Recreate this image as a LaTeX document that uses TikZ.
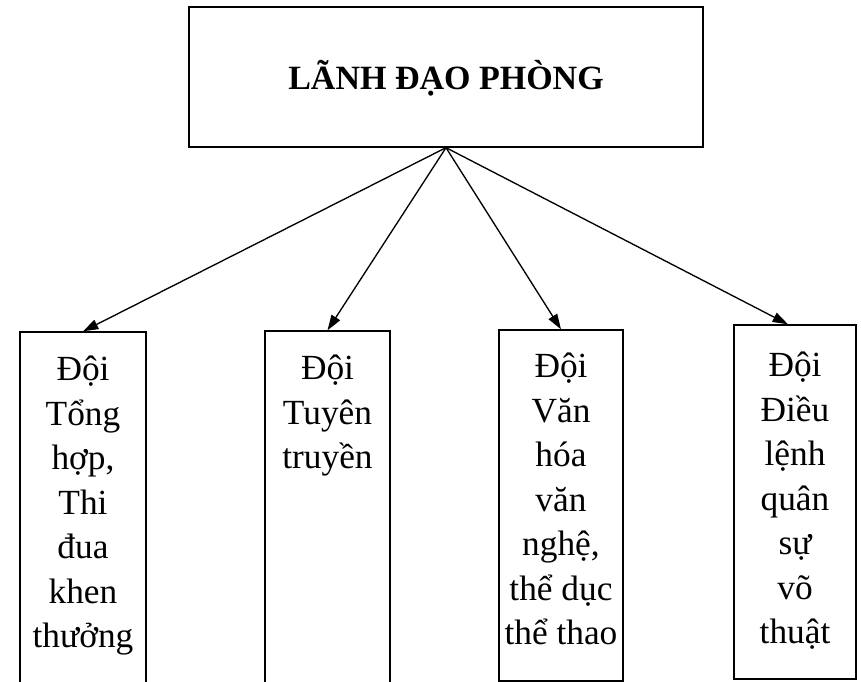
\documentclass[tikz,border=0pt]{standalone}
\usepackage{fontspec}
\setmainfont{Liberation Serif}
\usetikzlibrary{arrows.meta}
\begin{document}
\begin{tikzpicture}[x=0.75pt,y=-0.75pt,
  box/.style={draw, line width=1pt, rectangle, inner sep=0pt},
  lbl/.style={anchor=north, align=center, inner sep=0pt, font=\fontsize{26.5}{33.4}\selectfont},
  arr/.style={line width=1pt, -{Triangle[length=11.5pt,width=7.5pt]}}
  ]
\useasboundingbox (0,0) rectangle (861,682);
\node[box, minimum width=385.5pt, minimum height=105pt] (top) at (446,77) {};
\node[anchor=base, inner sep=0pt, font=\fontsize{25.5}{28}\selectfont\bfseries] (title) at (446,89) {LÃNH ĐẠO PHÒNG};

\node[box, minimum width=94.5pt, minimum height=276pt] (b1) at (83,516) {};
\node[box, minimum width=93.75pt, minimum height=276.75pt] (b2) at (327.5,515.5) {};
\node[box, minimum width=93pt, minimum height=263.25pt] (b3) at (561,505.5) {};
\node[box, minimum width=91.5pt, minimum height=265.5pt] (b4) at (795,502) {};

\node[lbl] (t1) at (83,349.3) {\strut Đội\\Tổng\\hợp,\\Thi\\đua\\khen\\thưởng};
\node[lbl] (t2) at (327.5,348.3) {\strut Đội\\Tuyên\\truyền};
\node[lbl] (t3) at (561,346.3) {\strut Đội\\Văn\\hóa\\văn\\nghệ,\\thể dục\\thể thao};
\node[lbl] (t4) at (795,345.3) {\strut Đội\\Điều\\lệnh\\quân\\sự\\võ\\thuật};

\draw[arr] (top.south) -- (b1.north);
\draw[arr] (top.south) -- (b2.north);
\draw[arr] (top.south) -- (b3.north);
\draw[arr] (top.south) -- ([xshift=-5.25pt]b4.north);
\end{tikzpicture}
\end{document}
